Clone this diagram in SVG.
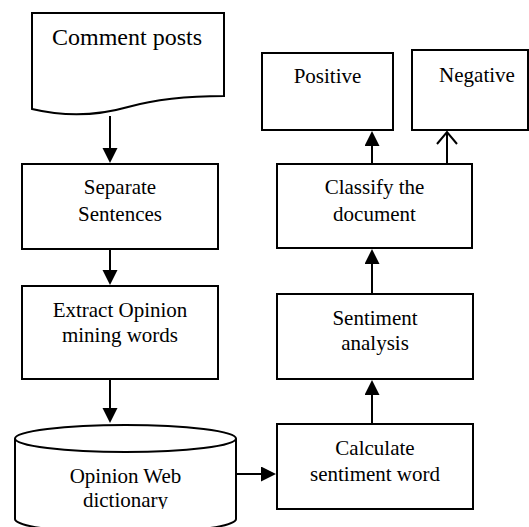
<svg xmlns="http://www.w3.org/2000/svg" width="529" height="527" viewBox="0 0 529 527">
<style>
.box{fill:#fff;stroke:#000;stroke-width:2}
.t{font-size:21px;fill:#000;text-anchor:middle}
.c{stroke:#000;stroke-width:2;fill:none}
</style>
<defs>
<marker id="af" markerUnits="userSpaceOnUse" markerWidth="16" markerHeight="16" refX="12" refY="7.5" orient="auto">
<path d="M0,0 L15,7.5 L0,15 z" fill="#000"/>
</marker>
<marker id="ao" markerUnits="userSpaceOnUse" markerWidth="18" markerHeight="24" refX="13" refY="11" orient="auto">
<path d="M1,1 L13,11 L1,21" fill="none" stroke="#000" stroke-width="2"/>
</marker>
<clipPath id="clipDict"><rect x="0" y="0" width="529" height="509"/></clipPath>
</defs>
<rect width="529" height="527" fill="#fff"/>
<g id="comment-posts">
<path class="box" d="M32,13 H224 V96 C190,96 160,98 128,107 C100,115 70,118 32,109 Z"/>
<text class="t" font-family="'Liberation Serif', 'DejaVu Serif', 'Times New Roman', Times, serif" x="127" y="45" style="font-size:24px">Comment posts</text>
</g>
<g id="separate-sentences">
<rect class="box" x="22" y="164" width="196" height="85"/>
<text class="t" font-family="'Liberation Serif', 'DejaVu Serif', 'Times New Roman', Times, serif" x="120" y="194">Separate</text>
<text class="t" font-family="'Liberation Serif', 'DejaVu Serif', 'Times New Roman', Times, serif" x="120" y="221">Sentences</text>
</g>
<g id="extract-opinion">
<rect class="box" x="22" y="286" width="196" height="93"/>
<text class="t" font-family="'Liberation Serif', 'DejaVu Serif', 'Times New Roman', Times, serif" x="120" y="317">Extract Opinion</text>
<text class="t" font-family="'Liberation Serif', 'DejaVu Serif', 'Times New Roman', Times, serif" x="120" y="342">mining words</text>
</g>
<g id="opinion-web-dictionary">
<path class="box" d="M15,438.5 V519 A110.5,14 0 0 0 236,519 V438.5"/>
<ellipse class="box" cx="125.5" cy="438.5" rx="110.5" ry="13.5"/>
<g clip-path="url(#clipDict)">
<text class="t" font-family="'Liberation Serif', 'DejaVu Serif', 'Times New Roman', Times, serif" x="125.5" y="483">Opinion Web</text>
<text class="t" font-family="'Liberation Serif', 'DejaVu Serif', 'Times New Roman', Times, serif" x="125.5" y="507">dictionary</text>
</g>
</g>
<g id="calculate-sentiment-word">
<rect class="box" x="277" y="424" width="196" height="85"/>
<text class="t" font-family="'Liberation Serif', 'DejaVu Serif', 'Times New Roman', Times, serif" x="375" y="455">Calculate</text>
<text class="t" font-family="'Liberation Serif', 'DejaVu Serif', 'Times New Roman', Times, serif" x="375" y="481">sentiment word</text>
</g>
<g id="sentiment-analysis">
<rect class="box" x="277" y="294" width="196" height="85"/>
<text class="t" font-family="'Liberation Serif', 'DejaVu Serif', 'Times New Roman', Times, serif" x="375" y="325">Sentiment</text>
<text class="t" font-family="'Liberation Serif', 'DejaVu Serif', 'Times New Roman', Times, serif" x="375" y="350">analysis</text>
</g>
<g id="classify-document">
<rect class="box" x="277" y="164" width="195" height="84"/>
<text class="t" font-family="'Liberation Serif', 'DejaVu Serif', 'Times New Roman', Times, serif" x="374.5" y="194">Classify the</text>
<text class="t" font-family="'Liberation Serif', 'DejaVu Serif', 'Times New Roman', Times, serif" x="374.5" y="221">document</text>
</g>
<g id="positive">
<rect class="box" x="262" y="53" width="131" height="77"/>
<text class="t" font-family="'Liberation Serif', 'DejaVu Serif', 'Times New Roman', Times, serif" x="327.5" y="83">Positive</text>
</g>
<g id="negative">
<rect class="box" x="412" y="50" width="116" height="80"/>
<text class="t" font-family="'Liberation Serif', 'DejaVu Serif', 'Times New Roman', Times, serif" x="477" y="82">Negative</text>
</g>
<g id="connectors">
<line class="c" x1="110" y1="116" x2="110" y2="160" marker-end="url(#af)"/>
<line class="c" x1="110" y1="249" x2="110" y2="282" marker-end="url(#af)"/>
<line class="c" x1="110" y1="379" x2="110" y2="420" marker-end="url(#af)"/>
<line class="c" x1="236" y1="474" x2="273" y2="474" marker-end="url(#af)"/>
<line class="c" x1="372" y1="424" x2="372" y2="383" marker-end="url(#af)"/>
<line class="c" x1="372" y1="294" x2="372" y2="252" marker-end="url(#af)"/>
<line class="c" x1="372" y1="164" x2="372" y2="134" marker-end="url(#af)"/>
<line class="c" x1="447" y1="164" x2="447" y2="132" marker-end="url(#ao)"/>
</g>
</svg>
